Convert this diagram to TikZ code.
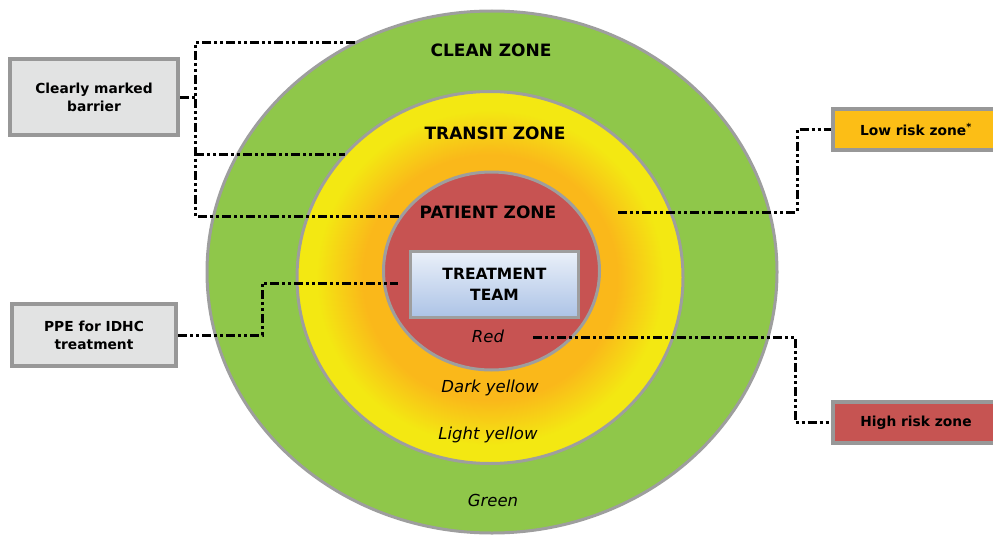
\documentclass[tikz,border=0pt]{standalone}
\usepackage{fontspec}
\setmainfont{DejaVu Sans}
\usepackage{xcolor}
\usepackage{tikz}

\definecolor{cleangreen}{RGB}{143,199,74}
\definecolor{ringgray}{RGB}{158,158,158}
\definecolor{lightyel}{RGB}{243,232,18}
\definecolor{darkyel}{RGB}{250,184,26}
\definecolor{patientred}{RGB}{199,83,82}
\definecolor{boxgray}{RGB}{152,152,152}
\definecolor{boxfill}{RGB}{226,227,227}
\definecolor{lowfill}{RGB}{252,190,22}
\definecolor{highfill}{RGB}{198,84,82}
\definecolor{teamtop}{RGB}{234,240,249}
\definecolor{teambot}{RGB}{172,195,230}

\pgfdeclareradialshading{transitshade}{\pgfpoint{0bp}{0bp}}{color(0bp)=(darkyel); color(16.5bp)=(darkyel); color(22.5bp)=(lightyel); color(25bp)=(lightyel); color(50bp)=(lightyel)}

\begin{document}
\begin{tikzpicture}[x=1pt,y=-1pt,
  ring/.style={draw=ringgray,line width=3pt},
  zonetitle/.style={font=\fontsize{17}{20}\selectfont\bfseries},
  shadename/.style={font=\fontsize{16.5}{20}\selectfont\itshape},
  sidebox/.style={draw=boxgray,line width=4pt,fill=boxfill,align=center,inner sep=0pt,
    font=\fontsize{13.8}{18}\selectfont\bfseries},
  leader/.style={line width=3pt,dash pattern=on 9pt off 3pt on 3pt off 3pt on 3pt off 3pt}]
  \useasboundingbox (0,0) rectangle (993,535);

  % Rings
  \draw[ring,fill=cleangreen] (492,272) ellipse [x radius=285pt, y radius=261pt];
  \path[ring,shade,shading=transitshade] (490,277.5) ellipse [x radius=193pt, y radius=186pt];
  \draw[ring,fill=patientred] (491.5,271) ellipse [x radius=108pt, y radius=99pt];

  \node[zonetitle] (clean) at (491,50) {CLEAN ZONE};
  \node[zonetitle] (transit) at (495,133) {TRANSIT ZONE};
  \node[zonetitle] (patient) at (488,212) {PATIENT ZONE};

  \node[draw=ringgray,line width=3pt,top color=teamtop,bottom color=teambot,
    minimum width=168pt,minimum height=66pt,align=center,
    font=\fontsize{15.5}{21}\selectfont\bfseries] (team) at (494.5,284.5) {TREATMENT\\TEAM};

  \node[shadename] (red) at (488,336) {Red};
  \node[shadename] (darkyellow) at (490,388) {Dark yellow};
  \node[shadename] (lightyellow) at (488,435) {Light yellow};
  \node[shadename] (green) at (493,500) {Green};

  % Left boxes
  \node[sidebox,minimum width=168pt,minimum height=76pt] (barrier) at (94,97) {Clearly marked\\barrier};
  \node[sidebox,minimum width=164pt,minimum height=62pt] (ppe) at (94,335) {PPE for IDHC\\treatment};

  % Right boxes
  \node[sidebox,fill=lowfill,minimum width=166pt,minimum height=41pt] (lowrisk) at (916,129.5) {Low risk zone\textsuperscript{*}};
  \node[sidebox,fill=highfill,minimum width=166pt,minimum height=41pt] (highrisk) at (916,422.5) {High risk zone};

  % Leaders
  \coordinate (bk) at (195,97);
  \coordinate (cleanedge) at (355,43);
  \coordinate (transitedge) at (345,154);
  \coordinate (patientedge) at (400,216);
  \draw[leader] (barrier.east) -- (bk);
  \draw[leader] (cleanedge) -| (bk) |- (patientedge);
  \draw[leader] (bk |- transitedge) -- (transitedge);

  \coordinate (ppebend) at (262,283);
  \coordinate (ppeend) at (398,283);
  \draw[leader] (ppe.east) -| (ppebend) -- (ppeend);

  \coordinate (lowstart) at (618,212);
  \draw[leader] (lowstart) -- ++(179,0) |- (lowrisk.west);

  \coordinate (highstart) at (533,337);
  \draw[leader] (highstart) -- ++(262,0) |- (highrisk.west);
\end{tikzpicture}
\end{document}
